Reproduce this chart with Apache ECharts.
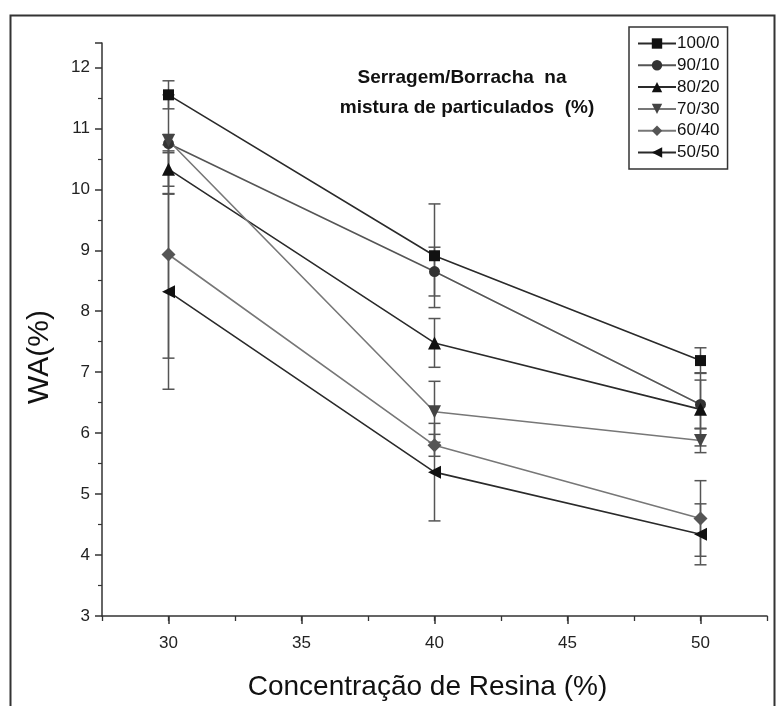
<!DOCTYPE html>
<html><head><meta charset="utf-8">
<script src="https://cdn.jsdelivr.net/npm/echarts@6/dist/echarts.min.js"></script>
<style>html,body{margin:0;padding:0;background:#fff}#c{width:780px;height:706px}</style>
</head><body><div id="c"></div>
<script>
const xValues = [30, 40, 50];
const seriesNames = ['100/0', '90/10', '80/20', '70/30', '60/40', '50/50'];
const wa_100_0 = [11.55, 8.91, 7.19];
const wa_90_10 = [10.75, 8.65, 6.47];
const wa_80_20 = [10.33, 7.48, 6.39];
const wa_70_30 = [10.80, 6.35, 5.88];
const wa_60_40 = [8.93, 5.80, 4.60];
const wa_50_50 = [8.32, 5.36, 4.34];
const err_100_0 = [0.23, 0.85, 0.21];
const err_90_10 = [0.15, 0.40, 0.40];
const err_80_20 = [0.40, 0.40, 0.60];
const err_70_30 = [0.75, 0.50, 0.20];
const err_60_40 = [1.70, 0.18, 0.62];
const err_50_50 = [1.60, 0.80, 0.50];
const yTicks = [3, 4, 5, 6, 7, 8, 9, 10, 11, 12];
const xTicks = [30, 35, 40, 45, 50];

const values = [wa_100_0, wa_90_10, wa_80_20, wa_70_30, wa_60_40, wa_50_50];
const errors = [err_100_0, err_90_10, err_80_20, err_70_30, err_60_40, err_50_50];
const symbols = ['rect', 'circle', 'triangle', 'triangle', 'diamond', 'triangle'];
const rotates = [0, 0, 0, 180, 0, 90];
const sizes = [11, 11, 13, 13, 14, 13];
const markerColors = ['#111', '#333', '#111', '#444', '#555', '#111'];
const lineColors = ['#2a2a2a', '#555', '#2a2a2a', '#777', '#777', '#2a2a2a'];

const chart = echarts.init(document.getElementById('c'));
const series = [];
series.push({
  type: 'custom',
  name: 'err',
  silent: true,
  z: 1,
  data: (function(){ const d=[]; values.forEach((v,i)=>v.forEach((y,j)=>d.push([xValues[j], y-errors[i][j], y+errors[i][j]]))); return d; })(),
  renderItem: function(params, api){
    const lo = api.coord([api.value(0), api.value(1)]);
    const hi = api.coord([api.value(0), api.value(2)]);
    const w = 6;
    const st = {stroke:'#555', lineWidth:1.5};
    return {type:'group', children:[
      {type:'line', shape:{x1:lo[0],y1:lo[1],x2:hi[0],y2:hi[1]}, style:st},
      {type:'line', shape:{x1:lo[0]-w,y1:lo[1],x2:lo[0]+w,y2:lo[1]}, style:st},
      {type:'line', shape:{x1:hi[0]-w,y1:hi[1],x2:hi[0]+w,y2:hi[1]}, style:st}
    ]};
  }
});
seriesNames.forEach((n,i)=>{
  series.push({
    type:'line', name:n, z:3,
    data: xValues.map((x,j)=>[x, values[i][j]]),
    symbol: symbols[i], symbolRotate: rotates[i], symbolSize: sizes[i],
    showAllSymbol:true,
    itemStyle:{color:markerColors[i]},
    lineStyle:{color:lineColors[i], width:1.6}
  });
});

const font = 'Liberation Sans, Arial';
chart.setOption({
  animation:false,
  backgroundColor:'#fff',
  grid:{left:102, right:13, top:43, bottom:86},
  xAxis:[{type:'value', min:27.5, max:52.5,
    axisLine:{lineStyle:{color:'#333', width:1.5}},
    axisTick:{length:8, customValues:xTicks, lineStyle:{color:'#333', width:1.5}},
    splitLine:{show:false},
    axisLabel:{customValues:xTicks, color:'#222', fontSize:17, fontFamily:font, margin:19},
    name:'Concentração de Resina (%)', nameLocation:'middle', nameGap:57,
    nameTextStyle:{fontSize:28, color:'#111', fontFamily:font, padding:[0,14,0,0]}
  },{type:'value', min:27.5, max:52.5, interval:2.5, position:'bottom',
    axisLine:{show:false},
    axisTick:{show:true, length:5, lineStyle:{color:'#333', width:1.3}},
    axisLabel:{show:false}, splitLine:{show:false}
  }],
  yAxis:{type:'value', min:3, max:12.4, interval:1,
    axisLine:{show:true, lineStyle:{color:'#333', width:1.5}},
    axisTick:{show:true, length:7, lineStyle:{color:'#333', width:1.5}},
    minorTick:{show:true, splitNumber:2, length:4, lineStyle:{color:'#333', width:1.2}},
    splitLine:{show:false},
    axisLabel:{showMaxLabel:false, color:'#222', fontSize:17, fontFamily:font, margin:12,
      formatter:v=>yTicks.indexOf(v)>=0?String(v):''}
  },
  legend:{
    data:seriesNames, orient:'vertical', left:629, top:27,
    itemWidth:38, itemHeight:13, itemGap:4.8,
    borderColor:'#333', borderWidth:1.5, borderRadius:0, padding:[8,8,8,8],
    textStyle:{fontSize:17, color:'#111', fontFamily:font, padding:[0,0,0,-4]}
  },
  graphic:[
    {type:'rect', left:8, top:13, shape:{width:764, height:706}, style:{fill:'none', stroke:'#333', lineWidth:2}, silent:true, z:-1},
    {type:'text', style:{text:'Serragem/Borracha  na', x:462, y:68, textAlign:'center', font:'bold 19px Liberation Sans, Arial', fill:'#111'}},
    {type:'text', style:{text:'mistura de particulados  (%)', x:467, y:98, textAlign:'center', font:'bold 19px Liberation Sans, Arial', fill:'#111'}},
    {type:'text', x:40, y:357, rotation:Math.PI/2, style:{text:'WA(%)', x:0, y:0, textAlign:'center', textVerticalAlign:'middle', font:'30px Liberation Sans, Arial', fill:'#111'}}
  ],
  series:series
});
</script></body></html>
